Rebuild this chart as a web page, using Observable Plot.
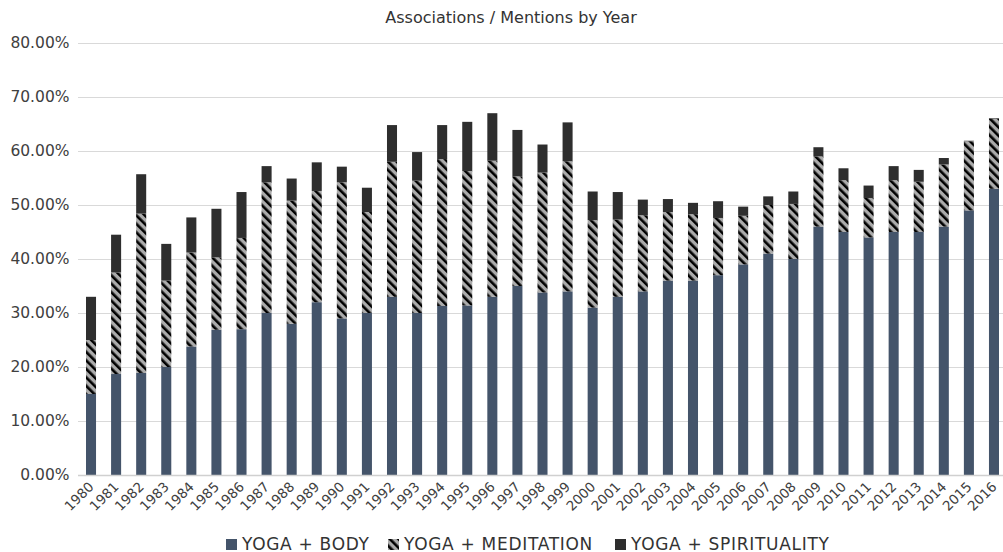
<!DOCTYPE html>
<html>
<head>
<meta charset="utf-8">
<script src="https://cdn.jsdelivr.net/npm/d3@7"></script>
<script src="https://cdn.jsdelivr.net/npm/@observablehq/plot@0.6"></script>
<style>
  html, body { margin: 0; padding: 0; background: #fff; }
  body { width: 1003px; height: 552px; position: relative; overflow: hidden; font-family: "DejaVu Sans", "Liberation Sans", Arial, sans-serif; color: #404040; }
  #title { position: absolute; top: 8px; left: 0; width: 1022px; text-align: center; font-size: 16px; color: #333; }
  #chart { position: absolute; top: 30px; left: 0; }
  #legend { position: absolute; top: 534px; left: 0; width: 1003px; height: 18px; font-size: 17px; letter-spacing: 0.7px; color: #333; white-space: nowrap; }
  #legend .item { position: absolute; top: 0; display: flex; align-items: center; }
  #legend svg { margin-right: 5px; }
</style>
</head>
<body>
<div id="title">Associations / Mentions by Year</div>
<div id="chart"></div>
<div id="legend"></div>
<script>
const years = ["1980","1981","1982","1983","1984","1985","1986","1987","1988","1989","1990","1991","1992","1993","1994","1995","1996","1997","1998","1999","2000","2001","2002","2003","2004","2005","2006","2007","2008","2009","2010","2011","2012","2013","2014","2015","2016"];
const seriesNames = ["YOGA + BODY", "YOGA + MEDITATION", "YOGA + SPIRITUALITY"];
// percent values (segment sizes)
const body =        [15, 18.7, 18.9, 20, 23.8, 26.9, 27, 30, 28, 32, 29, 30, 33, 30, 31.3, 31.4, 33, 35, 33.8, 34, 31, 33, 34, 36, 36, 37, 39, 41, 40, 46, 45, 44, 45, 45, 46, 49, 53];
const meditation =  [10, 18.8, 29.5, 16, 17.4, 13.4, 16.9, 24.2, 22.8, 20.6, 25.2, 18.7, 25, 24.5, 27.2, 24.9, 25.2, 20.3, 22.2, 24.1, 16.2, 14.3, 14.1, 12.7, 12.3, 10.6, 9, 9, 10.2, 13, 9.6, 7.3, 9.6, 9.3, 11.5, 12.8, 13];
const spirituality = [8, 7, 7.3, 6.8, 6.5, 9, 8.5, 3, 4.1, 5.3, 2.9, 4.5, 6.8, 5.3, 6.3, 9.1, 8.8, 8.6, 5.2, 7.2, 5.3, 5.1, 2.9, 2.4, 2.1, 3.1, 1.7, 1.6, 2.3, 1.7, 2.2, 2.3, 2.6, 2.2, 1.2, 0.1, 0.1];
const yTicks = [0, 0.1, 0.2, 0.3, 0.4, 0.5, 0.6, 0.7, 0.8];

const seriesValues = [body, meditation, spirituality];
const fills = ["#44546a", "url(#medStripes)", "#2e2e2e"];
const legendLeft = [226, 388, 615];

const data = [];
seriesNames.forEach((s, i) => {
  years.forEach((y, j) => data.push({year: y, series: s, value: seriesValues[i][j] / 100}));
});

const chart = Plot.plot({
  width: 1003,
  height: 500,
  marginTop: 13,
  marginLeft: 78,
  marginRight: 0,
  marginBottom: 55,
  style: {fontFamily: "'DejaVu Sans', 'Liberation Sans', Arial, sans-serif", color: "#404040", background: "white"},
  x: {domain: years, range: [86, 999], paddingInner: 0.6, paddingOuter: 0, round: false, label: null},
  y: {domain: [0, 0.8], label: null},
  color: {type: "ordinal", domain: seriesNames, range: fills},
  marks: [
    Plot.ruleY(yTicks.filter(d => d > 0), {stroke: "#d9d9d9", strokeWidth: 1}),
    Plot.barY(data, {x: "year", y: "value", fill: "series"}),
    Plot.ruleY([0], {stroke: "#d0d0d0", strokeWidth: 1.5}),
    Plot.axisY({ticks: yTicks, tickFormat: d3.format(".2%"), tickSize: 0, tickPadding: 9, fontSize: 15.5, label: null, style: {letterSpacing: "1.1px"}}),
    Plot.axisX({tickSize: 0, tickRotate: -45, tickPadding: 9, fontSize: 13.5, label: null})
  ]
});

const svg = d3.select(chart);
const defs = svg.insert("defs", ":first-child");
const p = defs.append("pattern")
  .attr("id", "medStripes")
  .attr("patternUnits", "userSpaceOnUse")
  .attr("width", 6).attr("height", 6)
  .attr("patternTransform", "rotate(-45)");
p.append("rect").attr("width", 6).attr("height", 6).attr("fill", "#ababab");
p.append("rect").attr("width", 2.6).attr("height", 6).attr("fill", "#000");
document.getElementById("chart").appendChild(chart);

const legend = d3.select("#legend");
seriesNames.forEach((s, i) => {
  const item = legend.append("div").attr("class", "item").style("left", legendLeft[i] + "px");
  const sw = item.append("svg").attr("width", 11).attr("height", 11);
  sw.append("rect").attr("width", 11).attr("height", 11).attr("fill", fills[i]);
  item.append("span").text(s);
});
</script>
</body>
</html>
